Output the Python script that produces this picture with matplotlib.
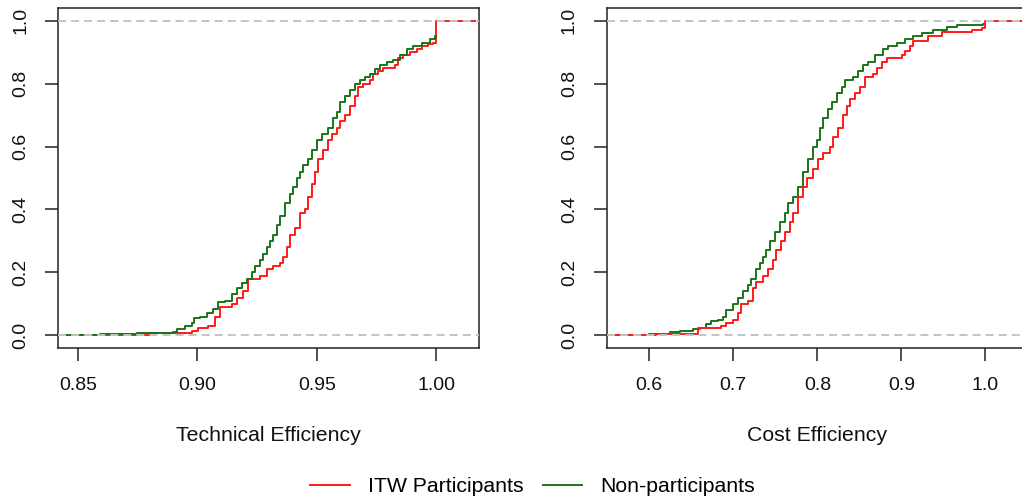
import matplotlib
matplotlib.use("Agg")
import matplotlib.pyplot as plt
from matplotlib.lines import Line2D

plt.rcParams['font.family'] = ['Liberation Sans', 'DejaVu Sans']
plt.rcParams['lines.scale_dashes'] = False

# ---------------- data (ECDF knots and levels) ----------------
# Technical efficiency, ITW participants
te_itw_x = [0.8802, 0.8976, 0.9004, 0.9046, 0.9074, 0.9095, 0.9144, 0.9165, 0.9193,
            0.9214, 0.9263, 0.9291, 0.9318, 0.9346, 0.9360, 0.9374, 0.9388, 0.9409,
            0.9430, 0.9451, 0.9465, 0.9479, 0.9493, 0.9507, 0.9528, 0.9549, 0.9563,
            0.9584, 0.9598, 0.9619, 0.9640, 0.9661, 0.9675, 0.9696, 0.9723, 0.9737,
            0.9758, 0.9779, 0.9828, 0.9842, 0.9863, 0.9891, 0.9919, 0.9940, 0.9968,
            0.9989, 1.0000]
te_itw_y = [0.007, 0.015, 0.025, 0.03, 0.06, 0.09, 0.10, 0.12, 0.14,
            0.18, 0.19, 0.21, 0.22, 0.23, 0.25, 0.28, 0.32, 0.34,
            0.39, 0.40, 0.44, 0.48, 0.52, 0.56, 0.59, 0.62, 0.64,
            0.66, 0.68, 0.70, 0.73, 0.76, 0.79, 0.80, 0.81, 0.83,
            0.84, 0.85, 0.86, 0.88, 0.89, 0.90, 0.91, 0.92, 0.925,
            0.93, 1.00]
# Technical efficiency, non-participants
te_non_x = [0.8592, 0.8746, 0.8899, 0.8913, 0.8948, 0.8976, 0.8987, 0.9011, 0.9039,
            0.9067, 0.9088, 0.9116, 0.9144, 0.9165, 0.9186, 0.9207, 0.9228, 0.9242,
            0.9263, 0.9277, 0.9291, 0.9304, 0.9318, 0.9332, 0.9346, 0.9367, 0.9388,
            0.9402, 0.9416, 0.9430, 0.9444, 0.9465, 0.9479, 0.9500, 0.9521, 0.9549,
            0.9570, 0.9584, 0.9598, 0.9619, 0.9640, 0.9661, 0.9682, 0.9703, 0.9723,
            0.9744, 0.9765, 0.9793, 0.9821, 0.9849, 0.9877, 0.9905, 0.9940, 0.9975,
            0.9996]
te_non_y = [0.003, 0.007, 0.01, 0.02, 0.03, 0.04, 0.055, 0.06, 0.07,
            0.085, 0.105, 0.11, 0.13, 0.15, 0.165, 0.18, 0.20, 0.22,
            0.24, 0.26, 0.28, 0.30, 0.32, 0.35, 0.38, 0.42, 0.45,
            0.47, 0.50, 0.52, 0.54, 0.56, 0.59, 0.62, 0.64, 0.66,
            0.69, 0.71, 0.74, 0.76, 0.78, 0.80, 0.81, 0.82, 0.83,
            0.845, 0.86, 0.87, 0.875, 0.89, 0.91, 0.92, 0.93, 0.94,
            0.95]
# Cost efficiency, ITW participants
ce_itw_x = [0.6083, 0.6580, 0.6858, 0.6918, 0.6997, 0.7057, 0.7096, 0.7176, 0.7235,
            0.7275, 0.7355, 0.7414, 0.7474, 0.7513, 0.7573, 0.7613, 0.7672, 0.7712,
            0.7772, 0.7831, 0.7871, 0.7950, 0.8010, 0.8070, 0.8149, 0.8189, 0.8248,
            0.8308, 0.8348, 0.8387, 0.8447, 0.8507, 0.8566, 0.8665, 0.8705, 0.8765,
            0.8824, 0.9003, 0.9043, 0.9102, 0.9142, 0.9321, 0.9480, 0.9837, 0.9956,
            1.0000]
ce_itw_y = [0.006, 0.025, 0.03, 0.04, 0.05, 0.07, 0.10, 0.11, 0.15,
            0.17, 0.19, 0.21, 0.24, 0.27, 0.30, 0.33, 0.36, 0.39,
            0.44, 0.47, 0.50, 0.53, 0.56, 0.58, 0.60, 0.63, 0.66,
            0.70, 0.73, 0.75, 0.77, 0.79, 0.82, 0.83, 0.85, 0.87,
            0.88, 0.89, 0.905, 0.92, 0.935, 0.95, 0.965, 0.97, 0.975,
            1.00]
# Cost efficiency, non-participants
ce_non_x = [0.6000, 0.6123, 0.6242, 0.6361, 0.6520, 0.6600, 0.6679, 0.6739, 0.6818,
            0.6878, 0.6918, 0.6997, 0.7057, 0.7116, 0.7176, 0.7215, 0.7275, 0.7315,
            0.7355, 0.7394, 0.7434, 0.7494, 0.7553, 0.7613, 0.7652, 0.7712, 0.7772,
            0.7831, 0.7891, 0.7950, 0.7990, 0.8030, 0.8070, 0.8129, 0.8169, 0.8228,
            0.8288, 0.8328, 0.8427, 0.8487, 0.8546, 0.8606, 0.8685, 0.8785, 0.8844,
            0.8943, 0.9043, 0.9142, 0.9241, 0.9380, 0.9539, 0.9658, 0.9976]
ce_non_y = [0.003, 0.006, 0.01, 0.015, 0.02, 0.025, 0.035, 0.045, 0.05,
            0.06, 0.08, 0.10, 0.12, 0.14, 0.16, 0.18, 0.21, 0.23,
            0.25, 0.27, 0.30, 0.33, 0.36, 0.39, 0.42, 0.44, 0.47,
            0.52, 0.56, 0.60, 0.62, 0.66, 0.69, 0.72, 0.74, 0.77,
            0.79, 0.81, 0.82, 0.84, 0.86, 0.87, 0.89, 0.91, 0.92,
            0.93, 0.94, 0.95, 0.96, 0.97, 0.98, 0.985, 0.99]

series_labels = ["ITW Participants", "Non-participants"]
xlabels = ["Technical Efficiency", "Cost Efficiency"]
te_xticks = [0.85, 0.90, 0.95, 1.00]
te_xticklabels = ["0.85", "0.90", "0.95", "1.00"]
ce_xticks = [0.6, 0.7, 0.8, 0.9, 1.0]
ce_xticklabels = ["0.6", "0.7", "0.8", "0.9", "1.0"]
yticks = [0.0, 0.2, 0.4, 0.6, 0.8, 1.0]
yticklabels = ["0.0", "0.2", "0.4", "0.6", "0.8", "1.0"]
max_score = 1.0

# ---------------- style ----------------
RED = "#ff1a1a"
GREEN = "#1a741a"
AXC = "#222222"
FS_TICK = 14
FS_LAB = 15.3

fig = plt.figure(figsize=(10.22, 5.01), dpi=100)
W, H = 1022, 501


def ax_rect(l, r, t, b):
    return [l / W, 1 - b / H, (r - l) / W, (b - t) / H]


panels = [
    dict(rect=ax_rect(58, 479, 8, 348), xlim=(0.8416, 1.018),
         itw=(te_itw_x, te_itw_y), non=(te_non_x, te_non_y),
         ticks=te_xticks, labels=te_xticklabels, xlabel=xlabels[0], red_on_top=False),
    dict(rect=ax_rect(606.7, 1028, 8, 348), xlim=(0.5494, 1.0506),
         itw=(ce_itw_x, ce_itw_y), non=(ce_non_x, ce_non_y),
         ticks=ce_xticks, labels=ce_xticklabels, xlabel=xlabels[1], red_on_top=True),
]

for p in panels:
    ax = fig.add_axes(p["rect"])
    x0, x1 = p["xlim"]
    ix, iy = p["itw"]
    nx, ny = p["non"]
    # ITW: full width, jumps to 1 at max score
    rx = [x0] + list(ix) + [x1]
    ry = [0.0] + list(iy) + [iy[-1]]
    # Non-participants: ends at max score
    gx = [x0] + list(nx) + [max_score]
    gy = [0.0] + list(ny) + [ny[-1]]
    zr, zg = (3, 2) if p["red_on_top"] else (2, 3)
    ax.step(rx, ry, where="post", color=RED, lw=1.4, zorder=zr)
    ax.step(gx, gy, where="post", color=GREEN, lw=1.4, zorder=zg)
    for h in (0.0, 1.0):
        ax.axhline(h, color="#c4c4c4", lw=1.4, linestyle=(0, (5.8, 3.6)), zorder=4)
    ax.set_xlim(x0, x1)
    ax.set_ylim(-0.04, 1.04)
    ax.set_xticks(p["ticks"])
    ax.set_xticklabels(p["labels"])
    ax.set_yticks(yticks)
    ax.set_yticklabels(yticklabels, rotation=90, va="center")
    ax.tick_params(axis="both", length=9.2, width=1.1, color=AXC, labelsize=FS_TICK,
                   labelcolor="#111111")
    ax.tick_params(axis="x", pad=12)
    ax.tick_params(axis="y", pad=11.5)
    for s in ax.spines.values():
        s.set_linewidth(1.1)
        s.set_color(AXC)
    ax.set_xlabel(p["xlabel"], fontsize=FS_LAB, labelpad=23, color="#111111")

handles = [Line2D([], [], color=RED, lw=1.4), Line2D([], [], color=GREEN, lw=1.4)]
fig.legend(handles, series_labels, loc="center", bbox_to_anchor=(532.5 / W, 1 - 487 / H),
           ncol=2, frameon=False, fontsize=FS_LAB, handlelength=1.88, handletextpad=0.85,
           columnspacing=0.9)

fig.savefig("out.png", dpi=100)
